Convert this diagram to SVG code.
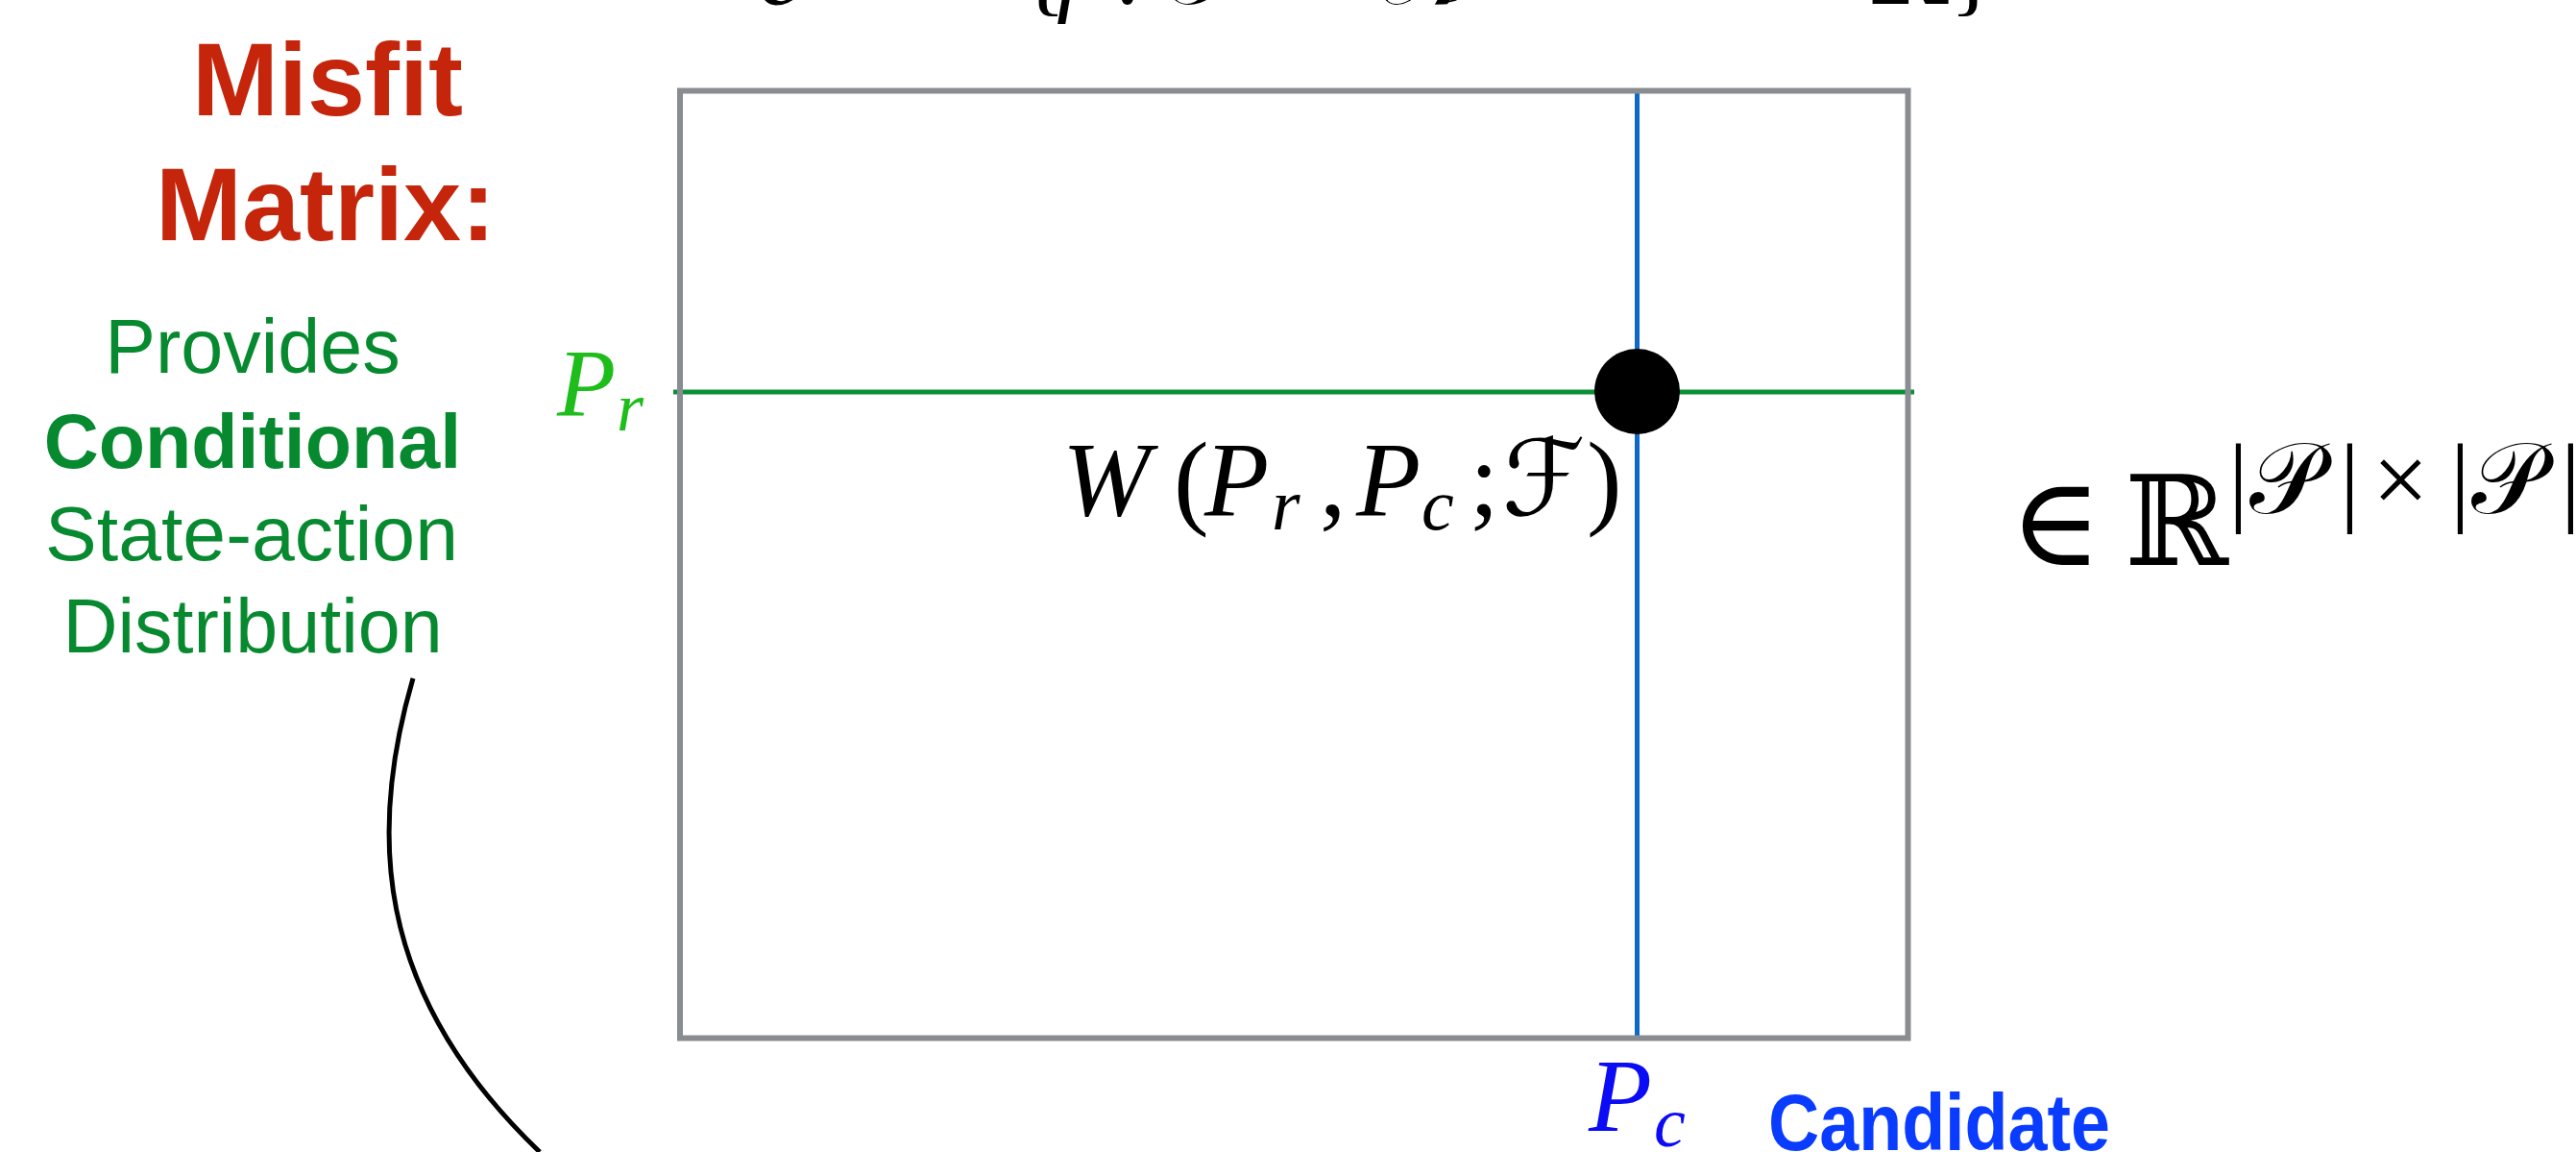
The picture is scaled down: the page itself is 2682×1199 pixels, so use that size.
<svg xmlns="http://www.w3.org/2000/svg" width="2682" height="1199" viewBox="0 0 2682 1199">
<style>
.bg{fill:#ffffff}
.hd{font-family:"Liberation Sans",Arial,sans-serif;font-weight:bold;font-size:108px;fill:#c4250b;text-anchor:middle}
.ds{font-family:"Liberation Sans",Arial,sans-serif;font-size:79px;fill:#078a2f;text-anchor:middle}
.dsb{font-weight:bold}
.mi{font-family:"Liberation Serif","Times New Roman",serif;font-style:italic}
.mo{font-family:"Liberation Serif","Times New Roman",serif;font-style:normal}
.ms{font-family:"DejaVu Serif","DejaVu Sans","Noto Sans",serif;font-style:normal}
.blk{fill:#000000}
.frame{fill:none;stroke:#898c90;stroke-width:6}
.row{stroke:#0b8f36;stroke-width:5}
.col{stroke:#0f67c8;stroke-width:5}
.conn{fill:none;stroke:#000000;stroke-width:5}
.cand{font-family:"Liberation Sans",Arial,sans-serif;font-weight:bold;font-size:84px;fill:#0a3cff}
</style>
<rect class="bg" x="0" y="0" width="2682" height="1199"/>

<g id="top-formula" class="blk" font-size="100">
  <text y="4"><tspan class="ms" x="790">ℱ</tspan><tspan class="mo" x="905">=</tspan><tspan class="mo" x="1062">{</tspan><tspan class="mi" x="1100">f</tspan><tspan class="mo" x="1160">:</tspan><tspan class="ms" x="1220">𝒮</tspan><tspan class="mo" x="1330">×</tspan><tspan class="ms" x="1440">𝒜</tspan><tspan class="mo" x="1580">→</tspan><tspan class="ms" x="1945">ℝ</tspan><tspan class="mo" x="2030">}</tspan></text>
</g>

<g id="label-misfit">
  <text class="hd" x="341" y="120">Misfit</text>
  <text class="hd" x="339" y="250">Matrix:</text>
</g>

<g id="label-description">
  <text class="ds" x="263" y="388">Provides</text>
  <text class="ds dsb" x="263" y="487">Conditional</text>
  <text class="ds" x="262" y="583" textLength="430" lengthAdjust="spacingAndGlyphs">State-action</text>
  <text class="ds" x="263" y="679">Distribution</text>
</g>

<g id="row-line"><line class="row" x1="701" y1="408" x2="1993" y2="408"/></g>
<g id="col-line"><line class="col" x1="1704.5" y1="96" x2="1704.5" y2="1080"/></g>
<g id="matrix"><rect class="frame" x="708" y="94.5" width="1278.5" height="986"/></g>
<g id="entry-point"><circle cx="1704.5" cy="407.5" r="44.5" fill="#000000"/></g>

<g id="label-pr" fill="#1fbd1c">
  <text class="mi" x="580" y="432" font-size="100">P</text>
  <text class="mi" x="642" y="448" font-size="72">r</text>
</g>

<g id="label-w" class="blk">
  <text y="536" font-size="110">
    <tspan class="mi" x="1106">W</tspan><tspan class="mo" x="1222">(</tspan><tspan class="mi" x="1254">P</tspan><tspan class="mi" x="1324" y="551" font-size="76">r</tspan><tspan class="mo" x="1374" y="536">,</tspan><tspan class="mi" x="1412">P</tspan><tspan class="mi" x="1480" y="551" font-size="76">c</tspan><tspan class="mo" x="1530" y="536">;</tspan><tspan class="ms" x="1564">ℱ</tspan><tspan class="mo" x="1652">)</tspan>
  </text>
</g>

<g id="label-space" class="blk">
  <text y="588" font-size="130"><tspan class="ms" x="2092">∈</tspan><tspan class="ms" x="2212">ℝ</tspan></text>
  <text y="534" font-size="104"><tspan class="mo" x="2320">|</tspan><tspan class="ms" x="2342">𝒫</tspan><tspan class="mo" x="2436">|</tspan><tspan class="mo" x="2470">×</tspan><tspan class="mo" x="2551">|</tspan><tspan class="ms" x="2573">𝒫</tspan><tspan class="mo" x="2666">|</tspan></text>
</g>

<g id="label-pc" fill="#0b0bf5">
  <text class="mi" x="1654" y="1177" font-size="108">P</text>
  <text class="mi" x="1722" y="1193" font-size="74">c</text>
</g>

<g id="label-candidate">
  <text class="cand" x="1841" y="1197" textLength="356" lengthAdjust="spacingAndGlyphs">Candidate</text>
</g>

<g id="connectors">
  <path class="conn" d="M430,706 C385,860 385,1030 562,1199"/>
</g>
</svg>
